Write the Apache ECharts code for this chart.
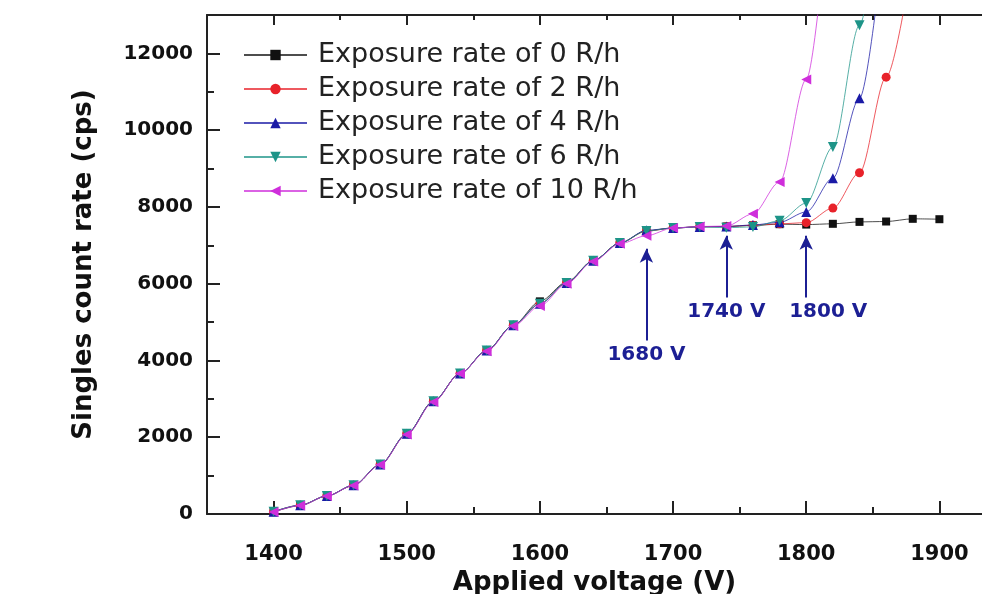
<!DOCTYPE html>
<html>
<head>
<meta charset="utf-8">
<script src="https://cdn.jsdelivr.net/npm/echarts@6/dist/echarts.min.js"></script>
<style>
  html, body { margin: 0; padding: 0; background: #fff; }
  #main { width: 982px; height: 594px; }
</style>
</head>
<body>
<div id="main"></div>
<script>
// ---- data ----
var volts = [1400, 1420, 1440, 1460, 1480, 1500, 1520, 1540, 1560, 1580, 1600, 1620, 1640,
             1660, 1680, 1700, 1720, 1740, 1760, 1780, 1800, 1820, 1840, 1860, 1880, 1900];
var rate0 = [50, 220, 470, 740, 1280, 2080, 2930, 3660, 4250, 4920, 5540, 6040, 6600,
             7060, 7380, 7450, 7490, 7490, 7520, 7550, 7540, 7560, 7610, 7620, 7690, 7680];
var rate2 = [60, 230, 470, 750, 1290, 2090, 2940, 3660, 4260, 4920, 5480, 6020, 6600,
             7060, 7370, 7450, 7480, 7490, 7520, 7560, 7590, 7970, 8890, 11380, 14500];
var rate4 = [60, 230, 470, 750, 1290, 2090, 2940, 3660, 4260, 4920, 5480, 6020, 6600,
             7060, 7390, 7450, 7480, 7490, 7530, 7600, 7870, 8750, 10830, 15500];
var rate6 = [60, 230, 470, 750, 1290, 2090, 2940, 3660, 4260, 4920, 5480, 6020, 6600,
             7060, 7370, 7450, 7480, 7460, 7480, 7640, 8100, 9560, 12730, 17500];
var rate10 = [50, 220, 470, 740, 1280, 2070, 2920, 3660, 4240, 4900, 5420, 6000, 6580,
              7040, 7250, 7450, 7490, 7500, 7820, 8650, 11320, 17000];

var xLabels = [1400, 1500, 1600, 1700, 1800, 1900];
var xMinor = [1450, 1550, 1650, 1750, 1850];
var yLabels = [0, 2000, 4000, 6000, 8000, 10000, 12000];

// arrows below the plateau
var arrowVolts = [1680, 1740, 1800];
var arrowBase = [4520, 5640, 5640];
var arrowTip = [6910, 7250, 7250];
var arrowText = ['1680 V', '1740 V', '1800 V'];

var names = ['Exposure rate of 0 R/h', 'Exposure rate of 2 R/h', 'Exposure rate of 4 R/h',
             'Exposure rate of 6 R/h', 'Exposure rate of 10 R/h'];
var colors = ['#111111', '#e8222a', '#1a1aa6', '#1d9488', '#cf2edb'];
var symbols = ['rect', 'circle', 'triangle', 'triangle', 'triangle'];
var rotates = [0, 0, 0, 180, 90];
var sizes = [8, 9, 10, 10, 10];

function pairs(vals) {
    return vals.map(function (v, i) { return [volts[i], v]; });
}

var myChart = echarts.init(document.getElementById('main'));

var font = 'DejaVu Sans';
var navy = '#1c1f94';
var axisColor = '#222';

var arrowData = arrowVolts.map(function (v, i) {
    return [
        {
            coord: [v, arrowBase[i]],
            label: {
                formatter: arrowText[i],
                padding: i === 2 ? [0, 0, 0, 44] : 0
            }
        },
        { coord: [v, arrowTip[i]] }
    ];
});

var allRates = [rate0, rate2, rate4, rate6, rate10];
var series = allRates.map(function (r, i) {
    return {
        name: names[i],
        type: 'line',
        data: pairs(r),
        smooth: 0.3,
        smoothMonotone: 'x',
        symbol: symbols[i],
        symbolRotate: rotates[i],
        symbolSize: sizes[i],
        showAllSymbol: true,
        clip: true,
        itemStyle: { color: colors[i] },
        lineStyle: { color: colors[i], width: 1, opacity: 0.75 },
        z: 2 + i
    };
});

series[0].markLine = {
    silent: true,
    symbol: ['none', 'arrow'],
    symbolSize: [10, 14],
    lineStyle: { color: navy, width: 2, type: 'solid' },
    label: {
        position: 'start',
        distance: 4,
        color: navy,
        fontFamily: font,
        fontWeight: 'bold',
        fontSize: 20
    },
    data: arrowData
};

function tickAxis(position, values, len, showLine) {
    return {
        type: 'value',
        min: 1350,
        max: 1932,
        position: position,
        axisLine: { show: showLine, lineStyle: { color: axisColor, width: 2 } },
        axisTick: { inside: true, length: len, customValues: values, lineStyle: { color: axisColor, width: 2 } },
        axisLabel: { show: false },
        splitLine: { show: false }
    };
}

var option = {
    backgroundColor: '#fff',
    animation: false,
    grid: {
        left: 207,
        top: 15,
        right: 0,
        height: 499,
        outerBoundsMode: 'none'
    },
    legend: {
        orient: 'vertical',
        left: 243,
        top: 40,
        padding: 0,
        itemWidth: 63,
        itemHeight: 13,
        itemGap: 4,
        textStyle: {
            fontFamily: font,
            fontSize: 27,
            color: '#222',
            lineHeight: 30,
            padding: [0, 0, 0, 6]
        },
        data: names
    },
    xAxis: [
        {
            type: 'value',
            min: 1350,
            max: 1932,
            position: 'bottom',
            name: 'Applied voltage (V)',
            nameLocation: 'middle',
            nameGap: 56,
            nameTextStyle: { fontFamily: font, fontWeight: 'bold', fontSize: 26, color: '#111' },
            axisLine: { lineStyle: { color: axisColor, width: 2 } },
            axisTick: { inside: true, length: 13, customValues: xLabels, lineStyle: { color: axisColor, width: 2 } },
            axisLabel: {
                customValues: xLabels,
                formatter: function (v) { return String(v); },
                margin: 30,
                fontFamily: font,
                fontWeight: 'bold',
                fontSize: 21,
                color: '#111'
            },
            splitLine: { show: false }
        },
        tickAxis('bottom', xMinor, 7, false),
        tickAxis('top', xLabels, 10, true),
        tickAxis('top', xMinor, 5, false)
    ],
    yAxis: {
        type: 'value',
        min: 0,
        max: 13000,
        interval: 2000,
        name: 'Singles count rate (cps)',
        nameLocation: 'middle',
        nameGap: 110,
        nameTextStyle: { fontFamily: font, fontWeight: 'bold', fontSize: 26, color: '#111' },
        axisLine: { show: true, lineStyle: { color: axisColor, width: 2 } },
        axisTick: { show: true, inside: true, length: 13, lineStyle: { color: axisColor, width: 2 } },
        minorTick: { show: true, splitNumber: 2, length: 7, lineStyle: { color: axisColor, width: 2 } },
        axisLabel: {
            customValues: yLabels,
            formatter: function (v) { return String(v); },
            margin: 14,
            fontFamily: font,
            fontWeight: 'bold',
            fontSize: 20,
            color: '#111'
        },
        splitLine: { show: false }
    },
    series: series
};

myChart.setOption(option);
</script>
</body>
</html>
